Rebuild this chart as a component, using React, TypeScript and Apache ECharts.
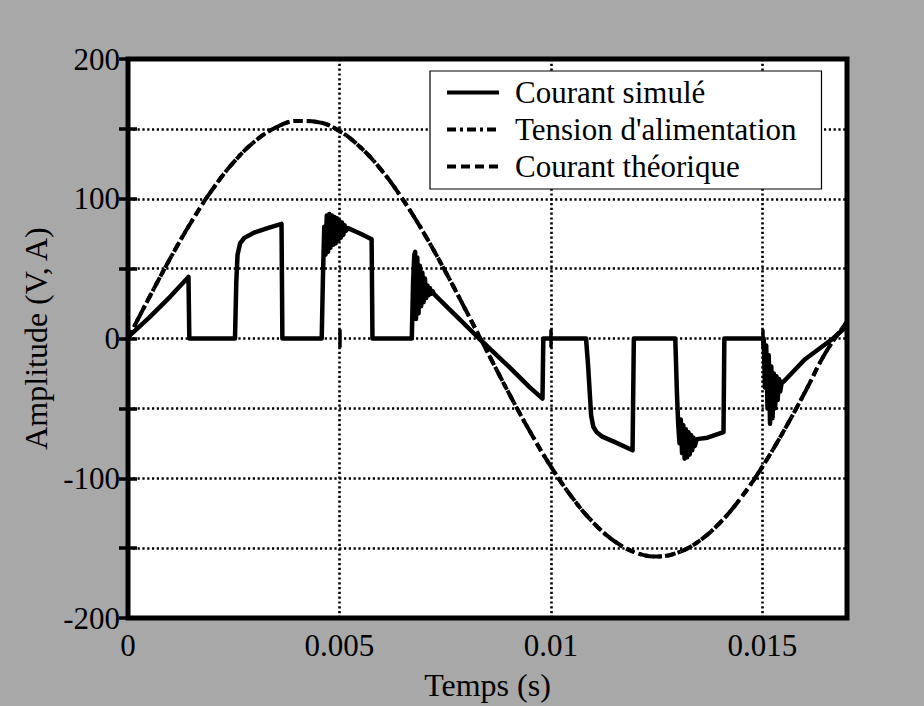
import React, { useEffect, useRef } from "react";
import * as echarts from "echarts";

// Time axis (s) for the supply voltage / theoretical current curves
const sineTime: number[] = [
  0, 0.0005, 0.001, 0.0015, 0.002, 0.0025, 0.003, 0.0035, 0.004, 0.0045,
  0.005, 0.0055, 0.006, 0.0065, 0.007, 0.0075, 0.008, 0.0085, 0.009, 0.0095,
  0.01, 0.0105, 0.011, 0.0115, 0.012, 0.0125, 0.013, 0.0135, 0.014, 0.0145,
  0.015, 0.0155, 0.016, 0.0165, 0.017,
];

// Tension d'alimentation (V)
const supplyVoltage: number[] = [
  0, 29.2, 57.4, 83.6, 106.8, 126.2, 141.1, 151.1, 155.7, 154.8,
  148.4, 136.7, 120.2, 99.4, 75.2, 48.2, 19.5, -9.8, -38.8, -66.4,
  -91.7, -113.7, -131.7, -145.0, -153.2, -156.0, -153.2, -145.0, -131.7, -113.7,
  -91.7, -66.4, -38.8, -9.8, 12,
];

// Courant théorique (A)
const theoCurrent: number[] = [
  0, 29.2, 57.4, 83.6, 106.8, 126.2, 141.1, 151.1, 155.7, 154.8,
  148.4, 136.7, 120.2, 99.4, 75.2, 48.2, 19.5, -9.8, -38.8, -66.4,
  -91.7, -113.7, -131.7, -145.0, -153.2, -156.0, -153.2, -145.0, -131.7, -113.7,
  -91.7, -66.4, -38.8, -9.8, 12,
];

// Courant simulé: time (s)
const simTime: number[] = [
  0, 0.0005, 0.001, 0.00143, 0.00145,
  0.00253, 0.00256, 0.00259, 0.00265, 0.00275, 0.003, 0.0033, 0.00363, 0.00365,
  0.00458, 0.00461, 0.00464, 0.00467, 0.0047, 0.00473, 0.00476, 0.00479, 0.00482,
  0.00485, 0.00488, 0.00491, 0.00494, 0.00497, 0.005, 0.00503, 0.00506, 0.00509,
  0.00512, 0.00515, 0.0052, 0.0055, 0.00576, 0.00578,
  0.00671, 0.00674, 0.00677, 0.00679, 0.00681, 0.00684, 0.00687, 0.0069, 0.00693,
  0.00696, 0.00699, 0.00702, 0.00705, 0.00708, 0.00711, 0.00714, 0.00717, 0.0072,
  0.00723, 0.0078, 0.0083, 0.009, 0.0095, 0.0098, 0.00982,
  0.01083, 0.01088, 0.01095, 0.011, 0.01108, 0.0112, 0.0115, 0.01193, 0.01196,
  0.01294, 0.01298, 0.01301, 0.01304, 0.01307, 0.0131, 0.01313, 0.01316, 0.01319,
  0.01322, 0.01325, 0.01328, 0.01331, 0.01334, 0.01337, 0.0134, 0.01345, 0.0137,
  0.01408, 0.0141,
  0.01503, 0.01506, 0.01509, 0.01512, 0.01515, 0.01518, 0.01521, 0.01524, 0.01527,
  0.0153, 0.01533, 0.01536, 0.01539, 0.01542, 0.01546, 0.0155, 0.016, 0.01667, 0.017,
];

// Courant simulé: value (A)
const simCurrent: number[] = [
  1, 15, 30, 44, 0,
  0, 40, 60, 68, 72, 76, 79, 82, 0,
  0, 45, 80, 60, 88, 62, 89, 65, 88,
  67, 87, 68, 86, 70, 84, 72, 83, 74,
  81, 77, 79, 75, 71, 0,
  0, 40, 60, 62, 14, 58, 18, 52, 23,
  47, 26, 43, 29, 38, 31, 36, 32, 34,
  32, 15, 0, -20, -35, -43, 0,
  0, -20, -55, -63, -67, -70, -74, -80, 0,
  0, -40, -62, -75, -58, -82, -62, -86, -65,
  -85, -67, -83, -69, -80, -71, -77, -72, -71,
  -67, 0,
  0, -35, -5, -50, -12, -61, -20, -57, -25,
  -50, -27, -44, -29, -38, -31, -31, -15, 0, 9,
];

const xTicks: number[] = [0, 0.005, 0.01, 0.015];
const yTickLabels: number[] = [-200, -100, 0, 100, 200];

const seriesNames = ["Courant simulé", "Tension d'alimentation", "Courant théorique"];

const FONT = "'Liberation Serif', 'Times New Roman', serif";

export default function App() {
  const ref = useRef<HTMLDivElement>(null);

  useEffect(() => {
    if (!ref.current) return;
    const chart = echarts.init(ref.current, undefined, { renderer: "svg" });

    const simData = simTime.map((t, i) => [t, simCurrent[i]]);
    const voltData = sineTime.map((t, i) => [t, supplyVoltage[i]]);
    const theoData = sineTime.map((t, i) => [t, theoCurrent[i]]);

    const dotted = { color: "#000", width: 2.6, type: [2.2, 2.6] as number[] };
    const tick = { show: true, inside: true, length: 9, lineStyle: { color: "#000", width: 3.5 } };

    const xFmt = (v: number) => {
      const hit = xTicks.find((t) => Math.abs(t - v) < 1e-9);
      return hit === undefined ? "" : String(hit);
    };
    const yFmt = (v: number) => {
      const hit = yTickLabels.find((t) => Math.abs(t - v) < 1e-9);
      return hit === undefined ? "" : String(hit);
    };

    chart.setOption({
      animation: false,
      backgroundColor: "#a8a8a8",
      grid: {
        left: 128,
        right: 77,
        top: 59,
        bottom: 78,
        show: true,
        backgroundColor: "#ffffff",
        borderColor: "#000",
        borderWidth: 5,
        z: 0,
      },
      legend: {
        orient: "vertical",
        left: 430,
        top: 71,
        padding: [6, 25, 7, 15],
        backgroundColor: "#ffffff",
        borderColor: "#000",
        borderWidth: 1.2,
        borderRadius: 0,
        itemWidth: 52,
        itemHeight: 14,
        itemGap: 6,
        data: seriesNames,
        itemStyle: { opacity: 0, borderWidth: 0 },
        lineStyle: { width: 4 },
        textStyle: {
          fontFamily: FONT,
          fontSize: 31,
          color: "#000",
          padding: [0, 0, 0, 11],
        },
      },
      xAxis: [
        {
          type: "value",
          min: 0,
          max: 0.017,
          interval: 0.005,
          position: "bottom",
          name: "Temps (s)",
          nameLocation: "middle",
          nameGap: 51,
          nameTextStyle: { fontFamily: FONT, fontSize: 32, color: "#000" },
          axisLine: { show: false },
          axisTick: tick,
          axisLabel: {
            showMaxLabel: false,
            margin: 12,
            fontFamily: FONT,
            fontSize: 31,
            color: "#000",
            formatter: xFmt,
          },
          splitLine: { show: true, lineStyle: dotted },
        },
        {
          type: "value",
          min: 0,
          max: 0.017,
          interval: 0.005,
          position: "top",
          axisLine: { show: false },
          axisTick: tick,
          axisLabel: { show: false },
          splitLine: { show: false },
        },
      ],
      yAxis: [
        {
          type: "value",
          min: -200,
          max: 200,
          interval: 50,
          position: "left",
          name: "Amplitude (V, A)",
          nameLocation: "middle",
          nameGap: 76,
          nameTextStyle: { fontFamily: FONT, fontSize: 32, color: "#000" },
          axisLine: { show: false },
          axisTick: tick,
          axisLabel: {
            margin: 8,
            fontFamily: FONT,
            fontSize: 31,
            color: "#000",
            formatter: yFmt,
          },
          splitLine: { show: true, lineStyle: dotted },
        },
        {
          type: "value",
          min: -200,
          max: 200,
          interval: 50,
          position: "right",
          axisLine: { show: false },
          axisTick: tick,
          axisLabel: { show: false },
          splitLine: { show: false },
        },
      ],
      series: [
        {
          name: seriesNames[0],
          type: "line",
          data: simData,
          symbol: "none",
          showSymbol: false,
          lineStyle: { color: "#000", width: 4.5, type: "solid", join: "round" },
          itemStyle: { color: "#000" },
          z: 5,
        },
        {
          name: seriesNames[1],
          type: "line",
          data: voltData,
          symbol: "none",
          showSymbol: false,
          smooth: 0.4,
          lineStyle: { color: "#000", width: 4, type: [9, 4, 3, 4] },
          itemStyle: { color: "#000" },
          z: 4,
        },
        {
          name: seriesNames[2],
          type: "line",
          data: theoData,
          symbol: "none",
          showSymbol: false,
          smooth: 0.4,
          lineStyle: { color: "#000", width: 4, type: [9, 5] },
          itemStyle: { color: "#000" },
          z: 4,
        },
      ],
    });

    return () => chart.dispose();
  }, []);

  return (
    <div
      ref={ref}
      style={{ position: "fixed", left: 0, top: 0, width: 924, height: 706 }}
    />
  );
}
